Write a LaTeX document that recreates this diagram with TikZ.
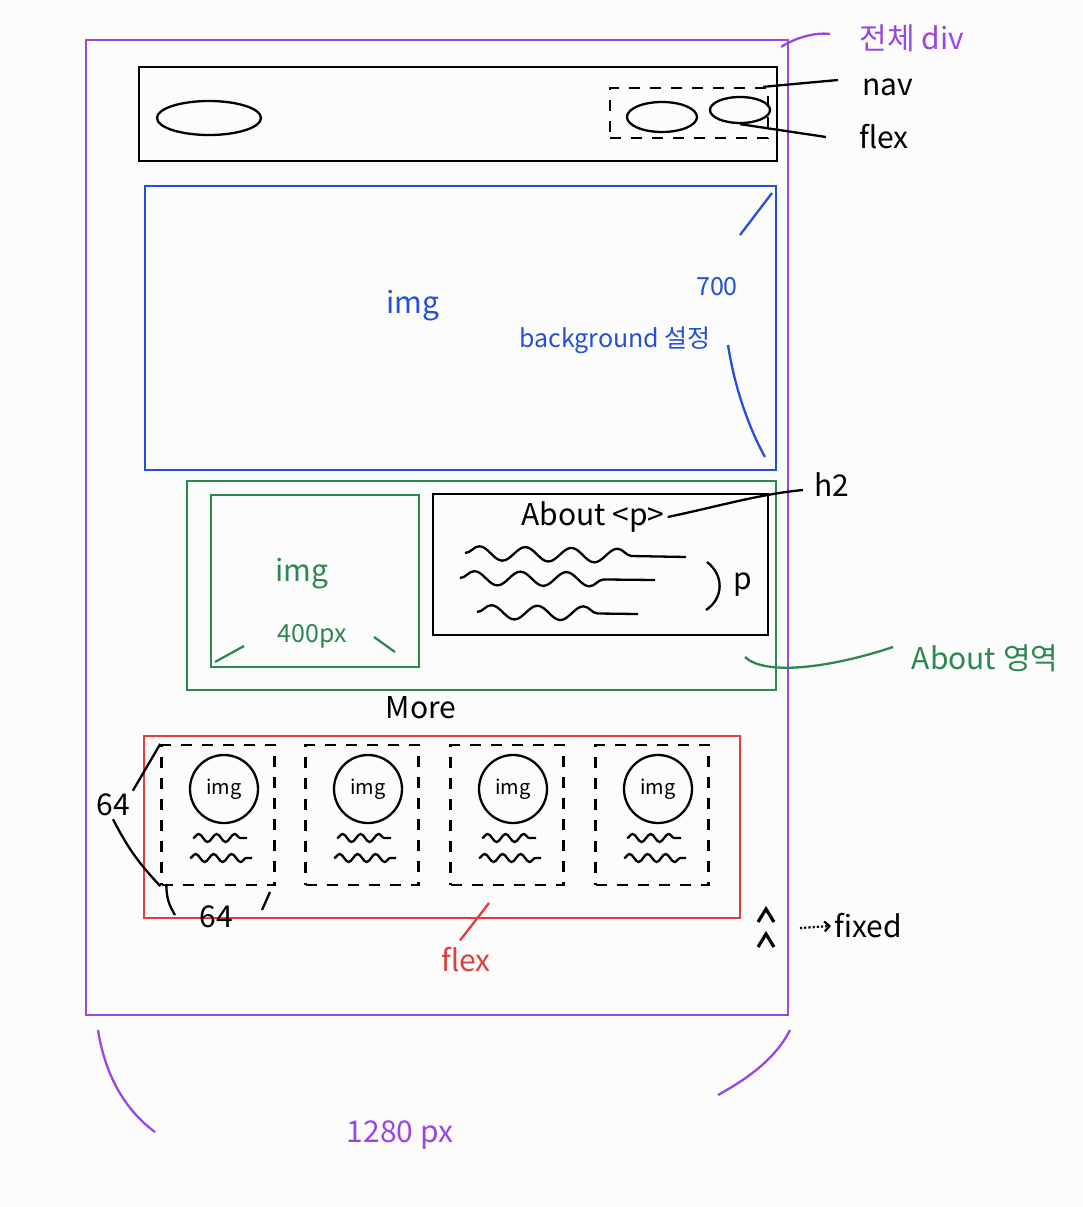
\documentclass[tikz,border=0pt]{standalone}
\usepackage{fontspec}
\setmainfont{Noto Sans CJK KR}
\usetikzlibrary{shapes.geometric,decorations.pathmorphing,arrows.meta}

\definecolor{paper}{RGB}{252,252,252}
\definecolor{divpurple}{RGB}{152,72,225}
\definecolor{heroblue}{RGB}{35,80,215}
\definecolor{aboutgreen}{RGB}{45,135,80}
\definecolor{morered}{RGB}{222,62,62}

\tikzset{
  box/.style={rectangle, draw, inner sep=0pt},
  dashbox/.style={rectangle, draw, inner sep=0pt, dash pattern=on 11pt off 10pt},
  lbl/.style={draw=none, inner sep=2pt, font=\fontsize{30}{34}\selectfont},
  small/.style={draw=none, inner sep=2pt, font=\fontsize{25}{29}\selectfont},
  wave/.style={decorate, decoration={snake, segment length=46pt, amplitude=7pt, post length=36pt}},
  cardwave/.style={decorate, decoration={snake, segment length=18pt, amplitude=4pt}},
}

\begin{document}
\begin{tikzpicture}[x=1pt, y=-1pt, line width=2.3pt]
\useasboundingbox[fill=paper] (0,0) rectangle (1083,1207);
%%%%%%%%%%%%%%%%%%%%%%%%%%%%%%%%%%%%%%%%%%% HELP LINES
%\draw[help lines, step=100] (0,0) grid (1083,1207);

%%%%%%%%%%%%%%%%%%%%%%%%%%%%%%%%%%%%%%%%%%% whole div
\node[box, draw=divpurple, minimum width=702, minimum height=975](page) at (437,527.5){};
\node[lbl, text=divpurple](wholediv) at (912,38){전체 div};
\coordinate (divtip) at (830,34);
\draw[divpurple] ([xshift=-8,yshift=-8]page.north east) .. controls (795,38) and (815,32) .. (divtip);

%%%%%%%%%%%%%%%%%%%%%%%%%%%%%%%%%%%%%%%%%%% nav
\node[box, minimum width=638, minimum height=94](nav) at (458,114){};
\node[ellipse, draw, minimum width=104, minimum height=34](logo) at (209,118){};
\node[dashbox, minimum width=158, minimum height=50](navflex) at (689,113){};
\node[ellipse, draw, minimum width=70, minimum height=30](menu1) at (662,117){};
\node[ellipse, draw, minimum width=60, minimum height=26](menu2) at (740,110){};
\node[lbl](navlbl) at (888,87){nav};
\node[lbl](flexlbl) at (884,137){flex};
\coordinate (navend) at (838,80);
\coordinate (flexend) at (826,137);
\draw ([xshift=-6]navflex.north east) -- (navend);
\draw (menu2.south) -- (flexend);

%%%%%%%%%%%%%%%%%%%%%%%%%%%%%%%%%%%%%%%%%%% hero
\node[box, draw=heroblue, minimum width=631, minimum height=284](hero) at (460.5,328){};
\node[lbl, text=heroblue](heroimg) at (413,306){img};
\node[small, text=heroblue](h700) at (717,287){700};
\node[small, text=heroblue](herobg) at (615,340){background 설정};
\draw[heroblue] (740,235) -- (772,193);
\draw[heroblue] (728,345) .. controls (735,390) and (750,430) .. (765,457);

%%%%%%%%%%%%%%%%%%%%%%%%%%%%%%%%%%%%%%%%%%% about
\node[box, draw=aboutgreen, minimum width=589, minimum height=209](about) at (481.5,585.5){};
\node[box, draw=aboutgreen, minimum width=208, minimum height=172](aboutimg) at (315,581){};
\node[lbl, text=aboutgreen](imgtxt) at (302,574){img};
\node[small, text=aboutgreen](w400) at (312,636){400px};
\draw[aboutgreen] (215,662) -- (244,646);
\draw[aboutgreen] (374,637) -- (395,652);
\node[box, minimum width=335, minimum height=141](abouttext) at (600.5,564.5){};
\node[lbl](abouth) at (593,517){About <p>};
\node[lbl](h2lbl) at (832,485){h2};
\coordinate (h2end) at (803,490);
\draw (abouth.east) .. controls (720,506) and (760,494) .. (h2end);
\draw[wave] (465,553) -- (686,557);
\draw[wave] (460,578) -- (655,580);
\draw[wave, decoration={post length=20pt}] (477,612) -- (638,614);
\coordinate (ptop) at (707,562);
\coordinate (pbot) at (706,610);
\draw (ptop) .. controls (724,575) and (724,598) .. (pbot);
\node[lbl](plbl) at (743,585){p};
\node[lbl, text=aboutgreen](aboutlbl) at (985,658){About 영역};
\coordinate (aboutcut) at (745,657);
\coordinate (aboutend) at (893,647);
\draw[aboutgreen] (aboutcut) .. controls (765,676) and (830,668) .. (aboutend);

%%%%%%%%%%%%%%%%%%%%%%%%%%%%%%%%%%%%%%%%%%% more
\node[lbl](morelbl) at (421,708){More};
\node[box, draw=morered, minimum width=596, minimum height=182](more) at (442,827){};
\foreach \i/\cx in {1/218,2/362,3/507,4/652}{
  \node[dashbox, minimum width=113, minimum height=140](card\i) at (\cx,815){};
  \node[circle, draw, minimum size=68, inner sep=0pt, font=\fontsize{20}{24}\selectfont](img\i) at (\cx+6,789){img};
  \draw[cardwave] (\cx-25,838) -- (\cx+29,838);
  \draw[cardwave] (\cx-28,858) -- (\cx+34,858);
}
\node[lbl](side64) at (113,805){64};
\node[lbl](bot64) at (216,917){64};
\draw (side64.north east) -- (card1.north west);
\draw (side64.south) to[bend right=8] (card1.south west);
\draw ([xshift=6]card1.south west) to[bend right=15] (175,915);
\draw (270,892) -- (262,910);
\coordinate (flextip) at (489,903);
\node[lbl, text=morered](moreflex) at (466,960){flex};
\draw[morered] (flextip) -- ([xshift=-6,yshift=4]moreflex.north);

%%%%% fixed button
\coordinate (up) at (766,928);
\draw[line width=3.2pt] (up) ++(-8,-6) -- ++(8,-13) -- ++(8,13);
\draw[line width=3.2pt] (up) ++(-8,19) -- ++(8,-13) -- ++(8,13);
\node[lbl](fixedlbl) at (868,926){fixed};
\draw[dotted, line width=2.2pt, -{Straight Barb[length=5pt]}] ([xshift=34]up) -- (fixedlbl.west);

%%%%% width
\draw[divpurple] (98,1030) .. controls (105,1075) and (125,1110) .. (155,1132);
\draw[divpurple] (790,1030) .. controls (775,1060) and (745,1080) .. (718,1095);
\node[lbl, text=divpurple](wlbl) at (400,1135){1280 px};

\end{tikzpicture}
\end{document}
